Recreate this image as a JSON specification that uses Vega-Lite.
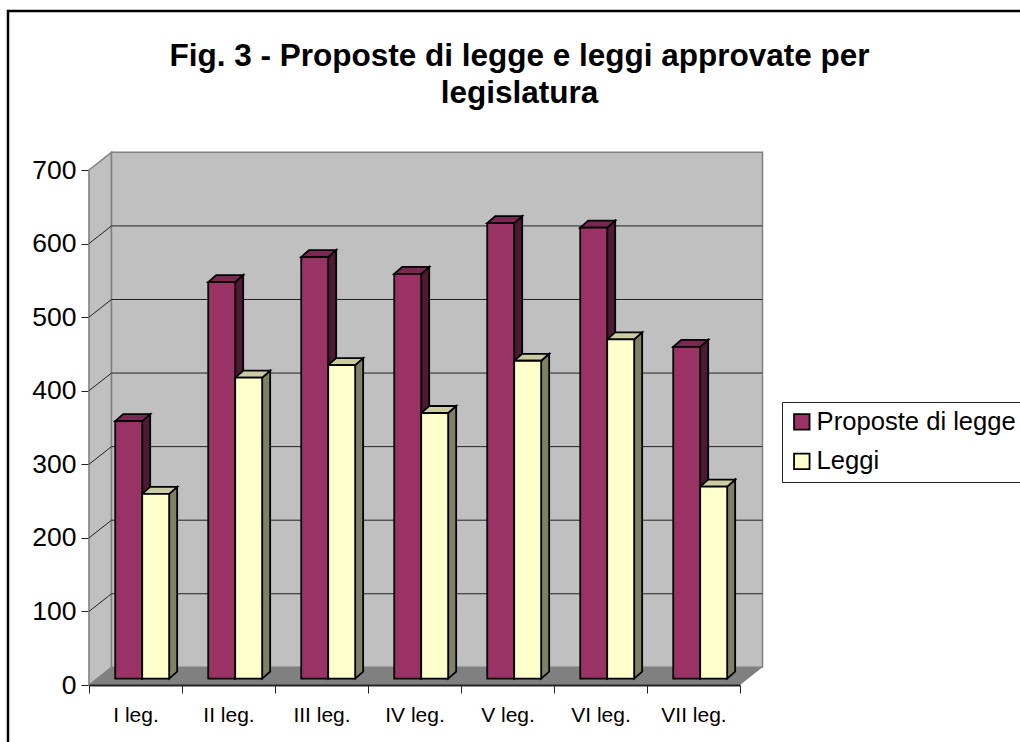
{
"$schema":"https://vega.github.io/schema/vega-lite/v6.json",
"width":651,"height":515,
"autosize":{"type":"none"},
"padding":{"left":89,"top":170,"right":280,"bottom":57},
"background":"white",
"title":{"text":["Fig. 3 - Proposte di legge e leggi approvate per","legislatura"],"font":"Liberation Sans","fontSize":31.5,"fontWeight":"bold","color":"#000000","anchor":"middle","dx":105,"offset":-99.5,"lineHeight":37},
"config":{"view":{"stroke":null}},
"datasets":{
"bars":[
{"legislatura":"I leg.","serie":"Proposte di legge","valore":350},
{"legislatura":"I leg.","serie":"Leggi","valore":251},
{"legislatura":"II leg.","serie":"Proposte di legge","valore":539},
{"legislatura":"II leg.","serie":"Leggi","valore":409},
{"legislatura":"III leg.","serie":"Proposte di legge","valore":573},
{"legislatura":"III leg.","serie":"Leggi","valore":426},
{"legislatura":"IV leg.","serie":"Proposte di legge","valore":550},
{"legislatura":"IV leg.","serie":"Leggi","valore":361},
{"legislatura":"V leg.","serie":"Proposte di legge","valore":619},
{"legislatura":"V leg.","serie":"Leggi","valore":432},
{"legislatura":"VI leg.","serie":"Proposte di legge","valore":613},
{"legislatura":"VI leg.","serie":"Leggi","valore":461},
{"legislatura":"VII leg.","serie":"Proposte di legge","valore":451},
{"legislatura":"VII leg.","serie":"Leggi","valore":261}
],
"griglia":[{"v":100},{"v":200},{"v":300},{"v":400},{"v":500},{"v":600}],
"parete":[{"x":0,"y":0,"y2":700},{"x":0.242,"y":24,"y2":724}],
"pavimento":[{"y":0,"x":0,"x2":7},{"y":24,"x":0.242,"x2":7.242}]
},
"resolve":{"scale":{"x":"independent"},"axis":{"x":"independent"}},
"layer":[
{"layer":[
{"data":{"values":[{"a":1}]},"mark":{"type":"rect","filled":false,"stroke":"#000000","strokeWidth":2.5,"clip":false},
"encoding":{
"x":{"datum":-0.871,"type":"quantitative","scale":{"domain":[0,7],"nice":false,"zero":false},"axis":null},
"x2":{"datum":10.6},
"y":{"datum":916,"type":"quantitative","scale":{"domain":[0,700],"nice":false,"zero":false},
"axis":{"values":[0,100,200,300,400,500,600,700],"title":null,"grid":false,"labelFont":"Liberation Sans","labelFontSize":26.5,"labelColor":"#000000","labelPadding":5,"tickSize":8,"tickColor":"#222222","domainColor":"#808080","domainWidth":1.5}},
"y2":{"datum":-100}}},
{"data":{"name":"parete"},"mark":{"type":"area","orient":"vertical","fill":"#C0C0C0","stroke":"#808080","strokeWidth":1.5},
"encoding":{"x":{"field":"x","type":"quantitative","axis":null},"y":{"field":"y","type":"quantitative","stack":null},"y2":{"field":"y2"}}},
{"data":{"values":[{"a":1}]},"mark":{"type":"rect","fill":"#C0C0C0","stroke":"#808080","strokeWidth":1.5},
"encoding":{"x":{"datum":0.242,"type":"quantitative","axis":null},"x2":{"datum":7.242},"y":{"datum":24,"type":"quantitative"},"y2":{"datum":724}}},
{"data":{"name":"pavimento"},"mark":{"type":"area","orient":"horizontal","fill":"#808080"},
"encoding":{"y":{"field":"y","type":"quantitative","stack":null},"x":{"field":"x","type":"quantitative","axis":null},"x2":{"field":"x2"}}},
{"data":{"name":"griglia"},"transform":[{"calculate":"datum.v+24","as":"w"}],"mark":{"type":"rule","color":"#222222","strokeWidth":1},
"encoding":{"x":{"datum":0,"type":"quantitative","axis":null},"x2":{"datum":0.242},"y":{"field":"v","type":"quantitative"},"y2":{"field":"w"}}},
{"data":{"name":"griglia"},"transform":[{"calculate":"datum.v+24","as":"w"}],"mark":{"type":"rule","color":"#222222","strokeWidth":1},
"encoding":{"x":{"datum":0.242,"type":"quantitative","axis":null},"x2":{"datum":7.242},"y":{"field":"w","type":"quantitative"},"y2":{"field":"w"}}},
{"data":{"name":"bars"},
"transform":[
{"calculate":"indexof(['I leg.','II leg.','III leg.','IV leg.','V leg.','VI leg.','VII leg.'],datum.legislatura)+(datum.serie=='Leggi'?0.572:0.282)","as":"x0"},
{"calculate":"datum.x0+0.29","as":"x1"},
{"calculate":"datum.valore+8.7","as":"cima"},
{"calculate":"[0,1]","as":"k"},{"flatten":["k"]},
{"calculate":"datum.x1+datum.k*0.086","as":"sx"},
{"calculate":"datum.cima+datum.k*9.5","as":"sy"},
{"calculate":"8.7+datum.k*9.5","as":"sy2"}
],
"mark":{"type":"area","orient":"vertical","stroke":"#000000","strokeWidth":1.8,"strokeJoin":"miter"},
"encoding":{"x":{"field":"sx","type":"quantitative","axis":null},"y":{"field":"sy","type":"quantitative","stack":null},"y2":{"field":"sy2"},
"detail":[{"field":"legislatura"},{"field":"serie"}],
"fill":{"condition":{"test":"datum.serie=='Leggi'","value":"#808066"},"value":"#4D1933"}}},
{"data":{"name":"bars"},
"transform":[
{"calculate":"indexof(['I leg.','II leg.','III leg.','IV leg.','V leg.','VI leg.','VII leg.'],datum.legislatura)+(datum.serie=='Leggi'?0.572:0.282)","as":"x0"},
{"calculate":"datum.x0+0.29","as":"x1"},
{"calculate":"datum.valore+8.7","as":"cima"},
{"calculate":"[0,1]","as":"k"},{"flatten":["k"]},
{"calculate":"datum.x0+datum.k*0.086","as":"tx"},
{"calculate":"datum.x1+datum.k*0.086","as":"tx2"},
{"calculate":"datum.cima+datum.k*9.5","as":"ty"}
],
"mark":{"type":"area","orient":"horizontal","stroke":"#000000","strokeWidth":1.8,"strokeJoin":"miter"},
"encoding":{"y":{"field":"ty","type":"quantitative","stack":null},"x":{"field":"tx","type":"quantitative","axis":null},"x2":{"field":"tx2"},
"detail":[{"field":"legislatura"},{"field":"serie"}],
"fill":{"condition":{"test":"datum.serie=='Leggi'","value":"#CCCCA3"},"value":"#7A2852"}}},
{"data":{"name":"bars"},
"transform":[
{"calculate":"indexof(['I leg.','II leg.','III leg.','IV leg.','V leg.','VI leg.','VII leg.'],datum.legislatura)+(datum.serie=='Leggi'?0.572:0.282)","as":"x0"},
{"calculate":"datum.x0+0.29","as":"x1"},
{"calculate":"datum.valore+8.7","as":"cima"}
],
"mark":{"type":"rect","stroke":"#000000","strokeWidth":1.8},
"encoding":{"x":{"field":"x0","type":"quantitative","axis":null},"x2":{"field":"x1"},"y":{"field":"cima","type":"quantitative"},"y2":{"datum":8.7},
"fill":{"field":"serie","type":"nominal","scale":{"domain":["Proposte di legge","Leggi"],"range":["#993366","#FFFFCC"]},
"legend":{"title":null,"orient":"none","legendX":693,"legendY":232,"direction":"vertical","labelFont":"Liberation Sans","labelFontSize":25.6,"labelColor":"#000000","labelLimit":400,"labelOffset":2,"symbolType":"square","symbolSize":240,"symbolStrokeColor":"#000000","symbolStrokeWidth":1.8,"rowPadding":12.5,"fillColor":"#FFFFFF","strokeColor":"#222222","padding":7,"symbolOpacity":1}}}}
]},
{"data":{"name":"bars"},"mark":{"type":"rule","opacity":0},
"encoding":{"x":{"field":"legislatura","type":"nominal","scale":{"type":"band","padding":0,"domain":["I leg.","II leg.","III leg.","IV leg.","V leg.","VI leg.","VII leg."]},
"axis":{"title":null,"orient":"bottom","tickBand":"extent","labelAngle":0,"labelFont":"Liberation Sans","labelFontSize":21,"labelColor":"#000000","labelPadding":11,"tickSize":8,"tickColor":"#222222","domainColor":"#222222","domainWidth":2,"zindex":1}}}}
]
}
